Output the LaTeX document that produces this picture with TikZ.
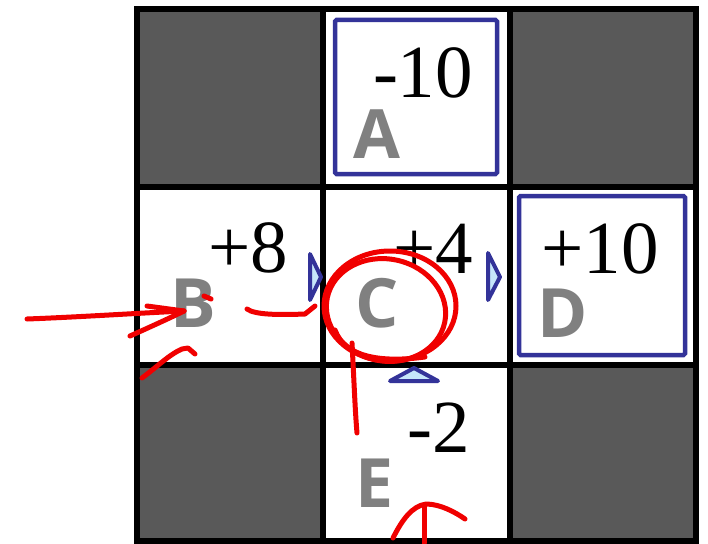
\documentclass[tikz,border=0pt]{standalone}
\usepackage{fontspec}
\setmainfont{Liberation Serif}
\newfontfamily\labfont{Open Sans}
\definecolor{cellgray}{HTML}{595959}
\definecolor{boxblue}{HTML}{333399}
\definecolor{trifill}{HTML}{C6E6FA}
\definecolor{labgray}{HTML}{808080}
\definecolor{penred}{HTML}{F00000}
\tikzset{
  num/.style={anchor=base, inner sep=0pt, font=\fontsize{75}{80}\selectfont},
  lab/.style={anchor=base, inner sep=0pt, text=labgray, font=\labfont\bfseries\fontsize{68}{72}\selectfont},
  goalbox/.style={draw=boxblue, line width=4.5pt, rounded corners=1.5pt},
  tri/.style={draw=boxblue, fill=trifill, line width=4pt, line join=round},
  grid/.style={line width=5.5pt},
  pen/.style={draw=penred, line width=5pt, line cap=round, line join=round}
}
\begin{document}
\begin{tikzpicture}[x=1pt,y=-1pt]
\useasboundingbox (0,0) rectangle (708,543);
\fill[white] (0,0) rectangle (708,543);
% dark cells
\fill[cellgray] (137,9) rectangle (323,187);
\fill[cellgray] (510,9) rectangle (696,187);
\fill[cellgray] (137,365) rectangle (323,541);
\fill[cellgray] (510,365) rectangle (696,541);
% grid
\draw[grid] (137,9) rectangle (696,541);
\draw[grid] (323,9) -- (323,541);
\draw[grid] (510,9) -- (510,541);
\draw[grid] (137,187) -- (696,187);
\draw[grid] (137,365) -- (696,365);
% goal boxes
\draw[goalbox] (335,20) rectangle (497,174);
\draw[goalbox] (519,196) rectangle (685,355);
% triangles
\draw[tri] (310,254) -- (321,277) -- (310,300) -- cycle;
\draw[tri] (488,253) -- (500,277) -- (488,300) -- cycle;
\draw[tri] (390,381) -- (414,368) -- (438,381) -- cycle;
% numbers
\node[num] (nA) at (423,97) {-10};
\node[num] (nB) at (248,272) {+8};
\node[num] (nC) at (433,273) {+4};
\node[num] (nD) at (600,273) {+10};
\node[num] (nE) at (439,452) {-2};
% letters
\node[lab] (A) at (377,158) {A};
\node[lab] (B) at (193,327) {B};
\node[lab] (C) at (377,327) {C};
\node[lab] (D) at (563,337) {D};
\node[lab] (E) at (375,507) {E};
% red pen strokes
\coordinate (p0) at (27,319);
\coordinate (p1) at (184,311);
\draw[pen] (p0) .. controls (80,317) and (140,313) .. (p1);
\draw[pen] (147,306) -- (p1);
\draw[pen] (130,336) .. controls (150,327) and (170,318) .. (p1);
\draw[pen] (204,296) -- (211,299);
\draw[pen] (142,378) .. controls (158,366) and (170,354) .. (182,349) -- (188,348) -- (195,354);
\draw[pen] (247,309) .. controls (255,315) and (280,315) .. (305,314) -- (315,306);
\draw[pen] (390,306) ellipse [x radius=66, y radius=55];
\draw[pen, rotate around={-12:(386,310)}] (386,310) ellipse [x radius=60, y radius=51];
\draw[pen] (335,330) .. controls (345,357) and (380,363) .. (425,357);
\draw[pen] (352,343) .. controls (354,380) and (355,410) .. (357,433);
\draw[pen] (393,538) .. controls (402,520) and (412,506) .. (426,504) .. controls (440,504) and (455,512) .. (465,519);
\draw[pen] (424,543) -- (424,506);
\end{tikzpicture}
\end{document}
